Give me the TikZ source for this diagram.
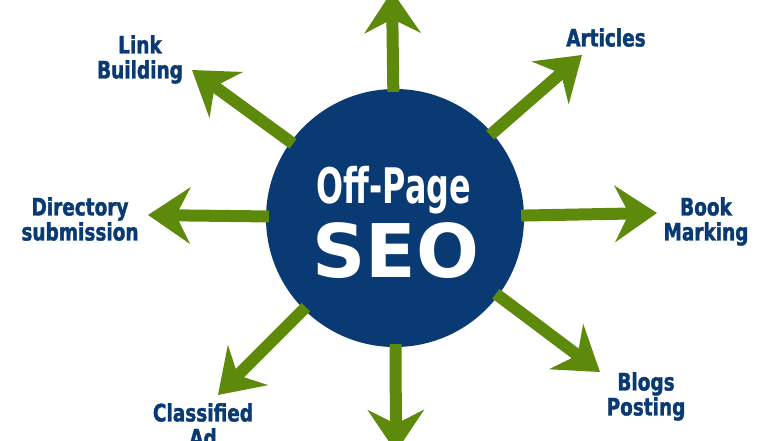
\documentclass[tikz,border=0pt]{standalone}
\usepackage{fontspec}
\usepackage{tikz}
\definecolor{navy800}{HTML}{0A3A73}
\definecolor{green700}{HTML}{5E8A0C}
\usetikzlibrary{arrows.meta}
\newfontfamily\labelfont[FakeStretch=0.77, FakeBold=1.5]{DejaVu Sans}
\newfontfamily\offfont[FakeStretch=0.65]{DejaVu Sans}
\newfontfamily\seofont{DejaVu Sans}
\tikzstyle{hub}=[circle, fill=navy800, minimum size=258pt, inner sep=0pt]
\tikzstyle{topic}=[text=navy800, align=center, anchor=north, inner sep=0pt, font={\labelfont\bfseries\fontsize{24pt}{25pt}\selectfont}]
\tikzstyle{ray}=[draw=green700, line width=12pt, shorten <=-3pt, -{Stealth[length=42pt, width=56pt, inset=14pt]}]

\begin{document}
\begin{tikzpicture}[x=1pt, y=-1pt]
			\useasboundingbox (0,0) rectangle (780,440);
			\fill[white] (0,0) rectangle (780,440);
			\node[hub] (seo) at (395,218) {};
			\coordinate (top-tip) at (392,-9);
			\coordinate (articles-tip) at (582,55);
			\coordinate (bookmark-tip) at (657,213);
			\coordinate (blogs-tip) at (600,372);
			\coordinate (bottom-tip) at (396,452);
			\coordinate (classified-tip) at (218,395);
			\coordinate (directory-tip) at (148,215);
			\coordinate (link-tip) at (192,70);
			\path[ray] (seo)--(top-tip);
			\path[ray] (seo)--(articles-tip);
			\path[ray] (seo)--(bookmark-tip);
			\path[ray] (seo)--(blogs-tip);
			\path[ray] (seo)--(bottom-tip);
			\path[ray] (seo)--(classified-tip);
			\path[ray] (seo)--(directory-tip);
			\path[ray] (seo)--(link-tip);
			\node[text=white, anchor=base, font={\offfont\bfseries\fontsize{49pt}{49pt}\selectfont}] (offpage) at (394,203) {Off-Page};
			\node[text=white, anchor=base, font={\seofont\bfseries\fontsize{74pt}{74pt}\selectfont}] (seotext) at (396,277) {SEO};
			\node[topic] (link) at (140,35) {Link\\Building};
			\node[topic] (articles) at (606,28) {Articles};
			\node[topic] (directory) at (80,197) {Directory\\submission};
			\node[topic] (bookmark) at (706,197) {Book\\Marking};
			\node[topic] (blogs) at (646,372) {Blogs\\Posting};
			\node[topic] (classified) at (203,403) {Classified\\Ad};
		\end{tikzpicture}
\end{document}
